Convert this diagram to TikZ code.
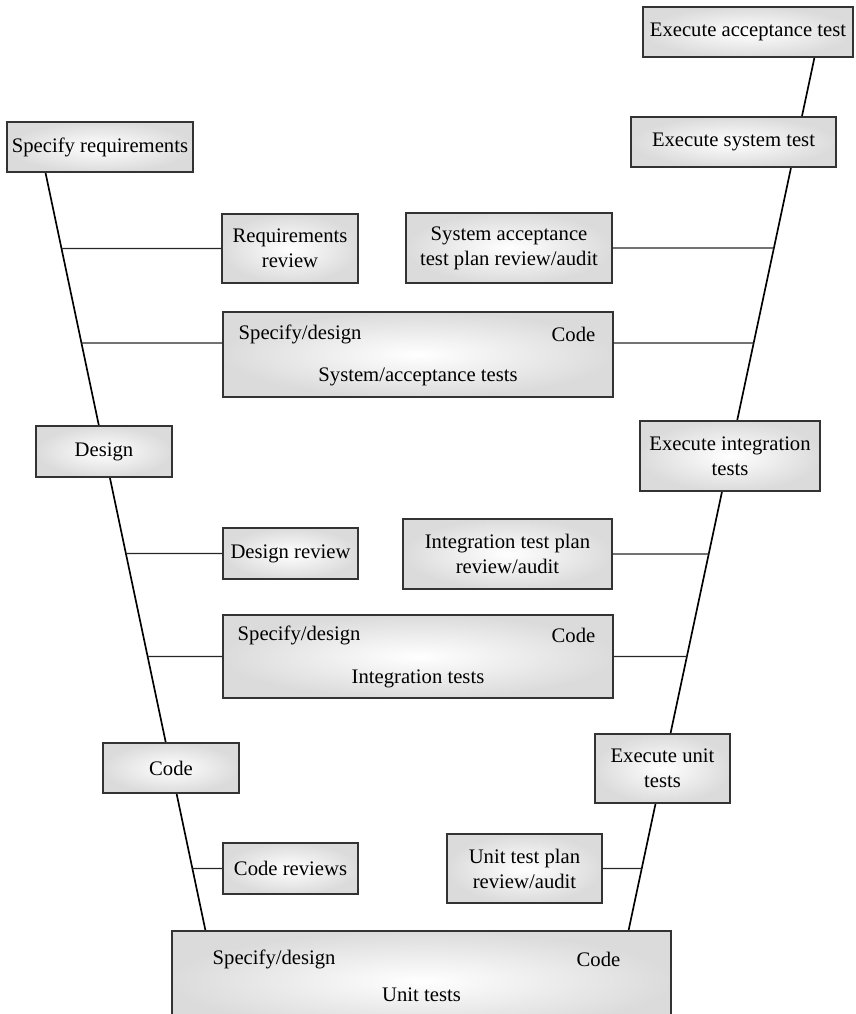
\documentclass[tikz,border=0pt]{standalone}
\usepackage{fontspec}
\setmainfont{Liberation Serif}
\usetikzlibrary{calc,backgrounds}

\begin{document}
\begin{tikzpicture}[x=0.75pt,y=-0.75pt,
  font=\fontsize{15.5}{18.75}\selectfont,
  box/.style={draw=black!80, line width=0.8pt, inner color=white,
    outer color=black!14, inner sep=0pt, align=center},
  sz/.style 2 args={minimum width=#1*0.75pt, minimum height=#2*0.75pt},
  lbl/.style={inner sep=0pt},
  vline/.style={line width=1.25pt, black},
  hline/.style={line width=0.95pt, black!85}]

\useasboundingbox (0,0) rectangle (856,1014);

% left branch: specification and design
\node[box, sz={186}{50}] (req) at (100,147) {Specify requirements};
\node[box, sz={136}{69}] (rr) at (290,248.5) {Requirements\\review};
\node[box, sz={136}{51}] (des) at (104,451.5) {Design};
\node[box, sz={135}{51}] (dr) at (290.5,553.5) {Design review};
\node[box, sz={136}{50}] (code) at (171,768) {Code};
\node[box, sz={135}{51}] (cr) at (290.5,868.5) {Code reviews};

% right branch: test execution
\node[box, sz={210}{50}] (eat) at (748,32) {Execute acceptance test};
\node[box, sz={205}{50}] (est) at (733.5,142) {Execute system test};
\node[box, sz={206}{70}] (sap) at (509,248) {System acceptance\\test plan review/audit};
\node[box, sz={180}{70}] (eit) at (730,456) {Execute integration\\tests};
\node[box, sz={209}{70}] (itp) at (507.5,554) {Integration test plan\\review/audit};
\node[box, sz={135}{69}] (eut) at (662.5,768.5) {Execute unit\\tests};
\node[box, sz={155}{69}] (utp) at (524.5,868.5) {Unit test plan\\review/audit};

% wide test boxes
\node[box, sz={390}{85}] (sat) at (418,354.5) {};
\node[lbl, anchor=west] (satA) at ($(sat.north west)+(16,23)$) {Specify/design};
\node[lbl, anchor=east] (satB) at ($(sat.north east)+(-18,23)$) {Code};
\node[lbl] (satC) at ($(sat.north)+(0,65)$) {System/acceptance tests};

\node[box, sz={390}{83}] (it) at (418,656.5) {};
\node[lbl, anchor=west] (itA) at ($(it.north west)+(15,21)$) {Specify/design};
\node[lbl, anchor=east] (itB) at ($(it.north east)+(-18,21)$) {Code};
\node[lbl] (itC) at ($(it.north)+(0,64)$) {Integration tests};

\node[box, sz={499}{100}] (ut) at (421.5,981) {};
\node[lbl, anchor=west] (utA) at ($(ut.north west)+(41,29)$) {Specify/design};
\node[lbl, anchor=east] (utB) at ($(ut.north east)+(-51,29)$) {Code};
\node[lbl] (utC) at ($(ut.north)+(0,64)$) {Unit tests};

% the two arms of the V, behind the boxes
\coordinate (Lt) at ($(req.south west)+(39,0)$);
\coordinate (Lb) at ($(ut.north west)+(34,0)$);
\coordinate (Rt) at ($(eat.south west)+(172,0)$);
\coordinate (Rb) at ($(ut.north east)+(-43,0)$);
\begin{pgfonlayer}{background}
  \draw[vline] (Lt) -- (Lb);
  \draw[vline] (Rt) -- (Rb);
\end{pgfonlayer}

% attachment points of the wide boxes
\coordinate (satW) at ($(sat.west)+(0,-11.5)$);
\coordinate (satE) at ($(sat.east)+(0,-11.5)$);
\coordinate (itW) at (it.west);
\coordinate (itE) at (it.east);

% reviews and plans hooked onto the arms
\draw[hline] (rr.west) -- (intersection of rr.west--rr.east and Lt--Lb);
\draw[hline] (satW) -- (intersection of satW--satE and Lt--Lb);
\draw[hline] (dr.west) -- (intersection of dr.west--dr.east and Lt--Lb);
\draw[hline] (itW) -- (intersection of itW--itE and Lt--Lb);
\draw[hline] (cr.west) -- (intersection of cr.west--cr.east and Lt--Lb);

\draw[hline] (sap.east) -- (intersection of sap.west--sap.east and Rt--Rb);
\draw[hline] (satE) -- (intersection of satW--satE and Rt--Rb);
\draw[hline] (itp.east) -- (intersection of itp.west--itp.east and Rt--Rb);
\draw[hline] (itE) -- (intersection of itW--itE and Rt--Rb);
\draw[hline] (utp.east) -- (intersection of utp.west--utp.east and Rt--Rb);

\end{tikzpicture}
\end{document}
